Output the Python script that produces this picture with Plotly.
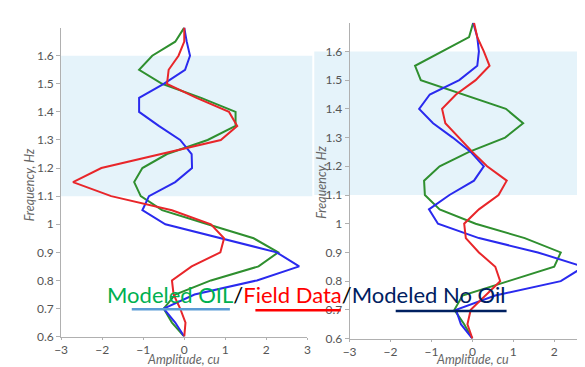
import plotly.graph_objects as go

freq = [0.6, 0.65, 0.7, 0.75, 0.8, 0.85, 0.9, 0.95, 1.0, 1.05, 1.1, 1.15,
        1.2, 1.25, 1.3, 1.35, 1.4, 1.45, 1.5, 1.55, 1.6, 1.65, 1.7]

# Left panel
left_oil = [0, -0.3, -0.5, -0.22, 0.65, 1.81, 2.29, 1.69, 0.57, -0.54, -1.06, -1.22,
            -1.02, -0.42, 0.57, 1.25, 1.25, 0.41, -0.54, -1.1, -0.78, -0.22, 0]
left_field = [0, 0.03, -0.1, -0.26, -0.3, 0.18, 0.88, 0.97, 0.65, -0.3, -1.78, -2.71,
              -2.02, -0.58, 0.89, 1.29, 1.09, 0.3, -0.42, -0.38, -0.14, 0.0, 0]
left_nooil = [0, -0.22, -0.5, 0.25, 1.77, 2.8, 2.25, 0.89, -0.46, -1.02, -0.86, -0.22,
              0.19, 0.18, -0.1, -0.62, -1.1, -1.1, -0.5, 0.02, 0.14, 0.06, 0]

# Right panel
right_oil = [0, -0.2, -0.44, -0.24, 0.88, 2.0, 2.16, 1.28, 0.08, -0.8, -1.16, -1.18,
             -0.8, -0.08, 0.8, 1.24, 0.82, -0.24, -1.26, -1.4, -0.72, -0.08, 0.02]
right_field = [0, -0.12, -0.04, 0.32, 0.68, 0.56, 0.16, -0.16, -0.2, 0.16, 0.64, 0.84,
               0.36, 0, -0.32, -0.66, -0.74, -0.4, 0.08, 0.42, 0.28, 0.12, 0.04]
right_nooil = [0, -0.28, -0.4, 0.56, 2.16, 2.72, 1.6, 0.16, -0.84, -1.06, -0.56, 0.04,
               0.28, -0.04, -0.48, -0.96, -1.3, -1.04, -0.32, 0.12, 0.16, 0.12, 0.02]

x_ticks = [-3, -2, -1, 0, 1, 2, 3]
y_ticks = [0.6, 0.7, 0.8, 0.9, 1.0, 1.1, 1.2, 1.3, 1.4, 1.5, 1.6]

GREEN = "#2f8f2f"
RED = "#e8262a"
BLUE = "#2a2aee"

W, H = 585, 367

fig = go.Figure()
for xa, ya, oil, field, nooil in [("x", "y", left_oil, left_field, left_nooil),
                                  ("x2", "y2", right_oil, right_field, right_nooil)]:
    fig.add_trace(go.Scatter(x=oil, y=freq, mode="lines", line=dict(color=GREEN, width=2),
                             xaxis=xa, yaxis=ya, showlegend=False))
    fig.add_trace(go.Scatter(x=nooil, y=freq, mode="lines", line=dict(color=BLUE, width=2),
                             xaxis=xa, yaxis=ya, showlegend=False))
    fig.add_trace(go.Scatter(x=field, y=freq, mode="lines", line=dict(color=RED, width=2),
                             xaxis=xa, yaxis=ya, showlegend=False))

axis_common = dict(showgrid=False, zeroline=False, showline=True, linecolor="#b0b0b0",
                   linewidth=1, ticks="outside", tickcolor="#b0b0b0",
                   tickfont=dict(family="Lato", size=12, color="#555555"))

title_font = dict(family="Lato", size=12.5, color="#666666")

fig.update_layout(
    width=W, height=H, autosize=False,
    margin=dict(l=0, r=0, t=0, b=0),
    paper_bgcolor="white", plot_bgcolor="rgba(0,0,0,0)",
    xaxis=dict(domain=[47 / W, 298 / W], range=[-3, 3], tickvals=x_ticks, anchor="y",
               ticklen=2, **axis_common),
    yaxis=dict(domain=[1 - 335 / H, 1 - 20 / H], range=[0.6, 1.7], tickvals=y_ticks,
               anchor="x", ticklen=4, **axis_common),
    xaxis2=dict(domain=[341 / W, 1.0], range=[-3, 2.85], tickvals=x_ticks, anchor="y2",
                ticklen=2, **axis_common),
    yaxis2=dict(domain=[1 - 337 / H, 1 - 15 / H], range=[0.6, 1.7], tickvals=y_ticks,
                anchor="x2", ticklen=4, **axis_common),
)

# light blue bands
fig.add_shape(type="rect", xref="paper", yref="y", x0=47 / W, x1=303 / W, y0=1.1, y1=1.6,
              fillcolor="#e5f3fa", line=dict(width=0), layer="below")
fig.add_shape(type="rect", xref="paper", yref="y2", x0=305 / W, x1=1.0, y0=1.1, y1=1.6,
              fillcolor="#e5f3fa", line=dict(width=0), layer="below")

# axis titles
for xc, yc in [(15, 180), (312, 178)]:
    fig.add_annotation(text="<i>Frequency, Hz</i>", xref="paper", yref="paper",
                       x=xc / W, y=1 - yc / H, showarrow=False, textangle=-90,
                       font=title_font, xanchor="center", yanchor="middle")
for xc in [172, 466]:
    fig.add_annotation(text="<i>Amplitude, cu</i>", xref="paper", yref="paper",
                       x=xc / W, y=1 - 358 / H, showarrow=False,
                       font=title_font, xanchor="center", yanchor="middle")

# legend text
legend_text = ("<span style='color:#00b050'>Modeled OIL</span>"
               "<span style='color:#000000'>/</span>"
               "<span style='color:#ff0000'>Field Data</span>"
               "<span style='color:#000000'>/</span>"
               "<span style='color:#002060'>Modeled No Oil</span>")
fig.add_annotation(text=legend_text, xref="paper", yref="paper", x=297 / W, y=1 - 292 / H,
                   showarrow=False, xanchor="center", yanchor="middle",
                   font=dict(family="Lato", size=22))

# underline swatches
for x0, x1, yy, col in [(119, 219, 307, "#5b9bd5"), (245, 332, 308, "#ff0000"),
                        (388, 501, 309, "#002060")]:
    fig.add_shape(type="line", xref="paper", yref="paper", x0=x0 / W, x1=x1 / W,
                  y0=1 - yy / H, y1=1 - yy / H, line=dict(color=col, width=2.5))

fig.write_html("out.html")
